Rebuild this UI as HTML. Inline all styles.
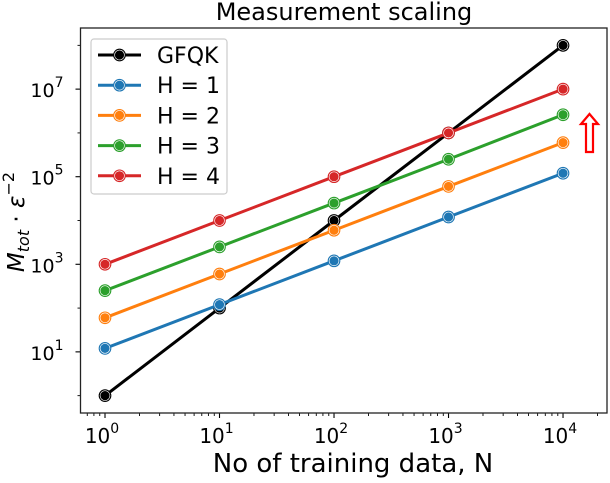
<!DOCTYPE html>
<html><head><meta charset="utf-8"><style>
body{margin:0;background:#fff;}
text{font-family:"DejaVu Sans","Liberation Sans",sans-serif;}
</style></head><body>
<svg id="chart" width="610" height="478" xmlns="http://www.w3.org/2000/svg">
<text x="344" y="20" font-size="24" text-anchor="middle">Measurement scaling</text>
<g id="plot"></g>
</svg>
<script>
const xs = [1, 10, 100, 1000, 10000];
const gfqk = [1, 100, 1e4, 1e6, 1e8];
const h1 = [12, 120, 1200, 12000, 120000];
const h2 = [60, 600, 6000, 60000, 600000];
const h3 = [250, 2500, 25000, 250000, 2600000];
const h4 = [1000, 10000, 100000, 1000000, 10000000];
const seriesNames = ["GFQK", "H = 1", "H = 2", "H = 3", "H = 4"];
const seriesColors = ["#000000", "#1f77b4", "#ff7f0e", "#2ca02c", "#d62728"];
const xTickExps = [0, 1, 2, 3, 4];
const yTickExps = [1, 3, 5, 7];

const L=80.5,R=607,T=28,B=413;
const xmin=-0.214,xmax=4.384,ymin=-0.396,ymax=8.396;
const X=v=>L+(Math.log10(v)-xmin)/(xmax-xmin)*(R-L);
const Y=v=>B-(Math.log10(v)-ymin)/(ymax-ymin)*(B-T);
const NS="http://www.w3.org/2000/svg";
const g=document.getElementById('plot');
function mk(tag,attrs,parent){const e=document.createElementNS(NS,tag);for(const k in attrs)e.setAttribute(k,attrs[k]);(parent||g).appendChild(e);return e;}

for(let e=-1;e<=4;e++)for(let m=2;m<=9;m++){const v=m*Math.pow(10,e);const lv=Math.log10(v);if(lv<xmin||lv>xmax)continue;
 const t=mk('line',{x1:X(v),x2:X(v),y1:B,y2:B+3,stroke:'#000','stroke-width':0.9});
 
 }
for(let e=-1;e<=9;e++){const v=Math.pow(10,e);if(e<ymin||e>ymax)continue;
 if(yTickExps.includes(e))continue;
 const t=mk('line',{x1:L-3,x2:L,y1:Y(v),y2:Y(v),stroke:'#000','stroke-width':0.9});
 
 }
xTickExps.forEach(e=>{const v=Math.pow(10,e);
 const t=mk('line',{x1:X(v),x2:X(v),y1:B,y2:B+5,stroke:'#000','stroke-width':1.1});
 
 
 const tx=mk('text',{x:X(v)-3,y:B+30,'font-size':20,'text-anchor':'middle'});
 
 
 tx.innerHTML='10<tspan dy="-10" font-size="14">'+e+'</tspan>';});
yTickExps.forEach(e=>{const v=Math.pow(10,e);
 const t=mk('line',{x1:L-5,x2:L,y1:Y(v),y2:Y(v),stroke:'#000','stroke-width':1.1});
 
 
 const tx=mk('text',{x:L-17,y:Y(v)+8,'font-size':19,'text-anchor':'end'});
 
 
 tx.innerHTML='10<tspan dy="-10" font-size="14">'+e+'</tspan>';});

const allSeries=[gfqk,h1,h2,h3,h4];
allSeries.forEach((s,i)=>{
 const p=mk('polyline',{points:xs.map((x,j)=>X(x)+','+Y(s[j])).join(' '),fill:'none',stroke:seriesColors[i],'stroke-width':3});
 
 
 xs.forEach((x,j)=>{
  const c=mk('circle',{cx:X(x),cy:Y(s[j]),r:5.2,fill:seriesColors[i],stroke:'#fff','stroke-width':1.2});
  
  
  const c2=mk('circle',{cx:X(x),cy:Y(s[j]),r:5.8,fill:'none',stroke:seriesColors[i],'stroke-width':1.1});
  
  
 });
});

const frame=mk('rect',{x:L,y:T,width:R-L,height:B-T,fill:'none',stroke:'#222','stroke-width':1.3});



const lg=mk('rect',{x:91,y:39,width:136,height:155,rx:3,fill:'#fff','fill-opacity':0.85,stroke:'#ccc','stroke-width':1.2});


seriesNames.forEach((n,i)=>{const y=55+i*30.2;
 const l=mk('line',{x1:98,x2:141,y1:y,y2:y,stroke:seriesColors[i],'stroke-width':3});
 
 
 const c=mk('circle',{cx:119.5,cy:y,r:5.2,fill:seriesColors[i],stroke:'#fff','stroke-width':1.2});
 
 
 const c2=mk('circle',{cx:119.5,cy:y,r:5.8,fill:'none',stroke:seriesColors[i],'stroke-width':1.1});
 
 
 const t=mk('text',{x:157,y:y+8,'font-size':22});
 
 
 t.textContent=n;});

const ar=mk('path',{d:'M589.5,114 L598,124 L593,124 L593,152 L586,152 L586,124 L581,124 Z',fill:'#fff',stroke:'#ff0000','stroke-width':2.2});



const xl=mk('text',{x:353,y:472,'font-size':26,'text-anchor':'middle'});


xl.textContent='No of training data, N';
const yl=mk('text',{transform:'translate(24,222) rotate(-90)','font-size':23,'text-anchor':'middle'});


yl.innerHTML='<tspan font-style="italic">M</tspan><tspan font-style="italic" font-size="16" dy="5">tot</tspan><tspan dy="-5"> · </tspan><tspan font-style="italic">ε</tspan><tspan font-size="16" dy="-10">−2</tspan>';
</script>
</body></html>
